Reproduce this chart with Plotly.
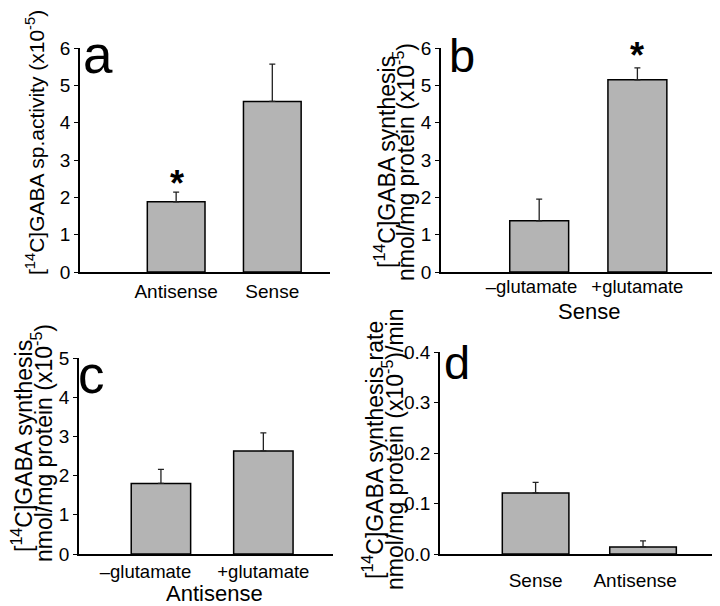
import plotly.graph_objects as go

W, H = 720, 606
OFF = 8  # page body margin offset of the plot div

# ---------------- data ----------------
a_categories = ["Antisense", "Sense"]
a_values = [1.88, 4.57]
a_errors = [0.26, 1.00]

b_categories = ["\u2013glutamate", "+glutamate"]
b_values = [1.37, 5.15]
b_errors = [0.58, 0.32]

c_categories = ["\u2013glutamate", "+glutamate"]
c_values = [1.80, 2.63]
c_errors = [0.36, 0.46]

d_categories = ["Sense", "Antisense"]
d_values = [0.121, 0.014]
d_errors = [0.021, 0.012]

FONT = "Liberation Sans, Arial, sans-serif"
NB = "\u00a0"


def px(x):
    return (x - OFF) / W


def py(y):
    return 1 - (y - OFF) / H


fig = go.Figure()

# label padding (non-breaking spaces) to reproduce the label offsets of the original
a_labels = list(a_categories)
b_labels = [b_categories[0] + NB * 3, b_categories[1]]
c_labels = [c_categories[0] + NB * 6, c_categories[1]]
d_labels = [d_categories[0], d_categories[1] + NB * 3]

panels = [
    # cats, labels, vals, errs, axis suffix, x-domain px, y-domain px (top,bottom), xrange, yrange, dtick, bar width, tickformat, label standoff, label size
    (a_categories, a_labels, a_values, a_errors, "", (80, 330), (48, 272), [-1.0, 1.6], [0, 6], 1, 0.6, None, 1, 19),
    (b_categories, b_labels, b_values, b_errors, "2", (441, 713), (48, 272), [-1.0, 1.77], [0, 6], 1, 0.6, None, -3, 18.5),
    (c_categories, c_labels, c_values, c_errors, "3", (79, 333), (358, 554), [-0.8, 1.68], [0, 5], 1, 0.58, None, 0, 18.5),
    (d_categories, d_labels, d_values, d_errors, "4", (440, 715), (352, 554), [-0.89, 1.67], [0, 0.4], 0.1, 0.62, ".1f", 8, 19),
]

layout_axes = {}
for cats, labels, vals, errs, sfx, xd, yd, xr, yr, dt, bw, tf, so, ls in panels:
    fig.add_trace(go.Bar(
        x=cats, y=vals, width=bw,
        xaxis="x" + sfx, yaxis="y" + sfx,
        marker=dict(color="#b4b4b4", line=dict(color="black", width=1.5)),
        error_y=dict(type="data", array=errs, arrayminus=[0] * len(errs),
                     symmetric=False, color="#222222", thickness=1.3, width=3),
        showlegend=False,
    ))
    layout_axes["xaxis" + sfx] = dict(
        domain=[px(xd[0]), px(xd[1])], anchor="y" + sfx, range=xr,
        type="category", automargin=False,
        tickmode="array", tickvals=cats, ticktext=labels, tickangle=0,
        showline=True, linecolor="black", linewidth=1.5,
        ticks="", showgrid=False, zeroline=False,
        tickfont=dict(family=FONT, size=ls, color="black"),
        ticklabelstandoff=so,
    )
    ya = dict(
        domain=[py(yd[1]), py(yd[0])], anchor="x" + sfx, range=yr,
        dtick=dt, tick0=0, automargin=False,
        showline=True, linecolor="black", linewidth=1.5,
        ticks="outside", ticklen=4, tickwidth=1, tickcolor="black",
        showgrid=False, zeroline=False,
        tickfont=dict(family=FONT, size=19, color="black"),
    )
    if tf:
        ya["tickformat"] = tf
    layout_axes["yaxis" + sfx] = ya

annotations = []


def ann(text, x, y, size, angle=0, xanchor="center", yanchor="middle"):
    annotations.append(dict(
        text=text, x=px(x), y=py(y), xref="paper", yref="paper",
        showarrow=False, textangle=angle, xanchor=xanchor, yanchor=yanchor,
        font=dict(family=FONT, size=size, color="black"),
    ))


# panel letters
ann("a", 81, 54, 53, xanchor="left")
ann("b", 447, 56, 47, xanchor="left")
ann("c", 76, 374, 53, xanchor="left")
ann("d", 442, 362, 47, xanchor="left")

# significance asterisks
ann("<b>*</b>", 177, 183, 36)
ann("<b>*</b>", 637, 56, 36)

# y-axis titles
TS = 23
ann("[<sup>14</sup>C]GABA sp.activity (x10<sup>-5</sup>)", 35, 143, 21, angle=-90)
ann("[<sup>14</sup>C]GABA synthesis", 385, 162, TS, angle=-90)
ann("nmol/mg protein (x10<sup>-5</sup>)", 404, 162, TS, angle=-90)
ann("[<sup>14</sup>C]GABA synthesis", 22, 446, TS, angle=-90)
ann("nmol/mg protein (x10<sup>-5</sup>)", 42, 443, TS, angle=-90)
ann("[<sup>14</sup>C]GABA synthesis rate", 373, 450, TS, angle=-90)
ann("nmol/mg protein (x10<sup>-5</sup>)/min", 393, 450, TS, angle=-90)

# group labels
ann("Sense", 589, 311, 22)
ann("Antisense", 214, 593, 22)

fig.update_layout(
    width=W, height=H,
    margin=dict(l=0, r=0, t=0, b=0, autoexpand=False),
    paper_bgcolor="white", plot_bgcolor="white",
    font=dict(family=FONT, color="black"),
    annotations=annotations,
    **layout_axes,
)

fig.write_html("out.html")
